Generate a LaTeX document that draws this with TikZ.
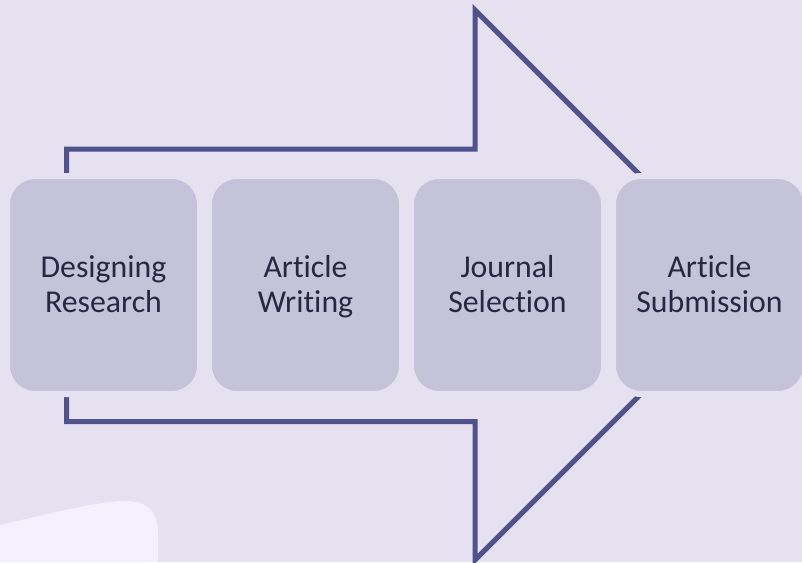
\documentclass[tikz,border=0pt]{standalone}
\usepackage{fontspec}
\setmainfont[Ligatures=NoCommon]{Carlito}
\definecolor{bgc}{RGB}{229,225,241}
\definecolor{boxc}{RGB}{197,195,217}
\definecolor{linec}{RGB}{80,82,140}
\definecolor{lightc}{RGB}{244,240,254}
\definecolor{textc}{RGB}{40,38,66}
\begin{document}
\begin{tikzpicture}[x=1pt,y=-1pt,
  stepbox/.style={rectangle, rounded corners=28pt, fill=boxc, draw=bgc, line width=6pt,
    minimum width=193pt, minimum height=218pt, inner sep=0pt, outer sep=0pt},
  steptext/.style={inner sep=0pt, align=center, text=textc, font=\fontsize{31.8}{35}\selectfont},
  arrowline/.style={draw=linec, line width=5pt}]
\fill[bgc] (0,0) rectangle (802,562);
\useasboundingbox (0,0) rectangle (802,562);
\fill[lightc] (0,525) .. controls (60,511) and (100,501) .. (126,501)
  .. controls (150,501) and (158,514) .. (158,535) -- (158,562) -- (0,562) -- cycle;
\coordinate (a1) at (66.5,173);
\coordinate (a2) at (66.5,149);
\coordinate (a3) at (475,149);
\coordinate (a4) at (475,10);
\coordinate (tip) at (750,285);
\coordinate (b4) at (475,560);
\coordinate (b3) at (475,421.5);
\coordinate (b2) at (66.5,421.5);
\coordinate (b1) at (66.5,397);
\draw[arrowline] (a1) -- (a2) -- (a3) -- (a4) -- (tip) -- (b4) -- (b3) -- (b2) -- (b1);
\node[stepbox] (s1) at (103.5,285) {};
\node[stepbox] (s2) at (305.5,285) {};
\node[stepbox] (s3) at (507.5,285) {};
\node[stepbox] (s4) at (709.5,285) {};
\node[steptext] (t1) at (103.5,287.5) {\strut Designing\\Research\strut};
\node[steptext] (t2) at (305.5,287.5) {\strut Article\\Writing\strut};
\node[steptext] (t3) at (507.5,287.5) {\strut Journal\\Selection\strut};
\node[steptext] (t4) at (709.5,287.5) {\strut Article\\Submission\strut};
\end{tikzpicture}
\end{document}
